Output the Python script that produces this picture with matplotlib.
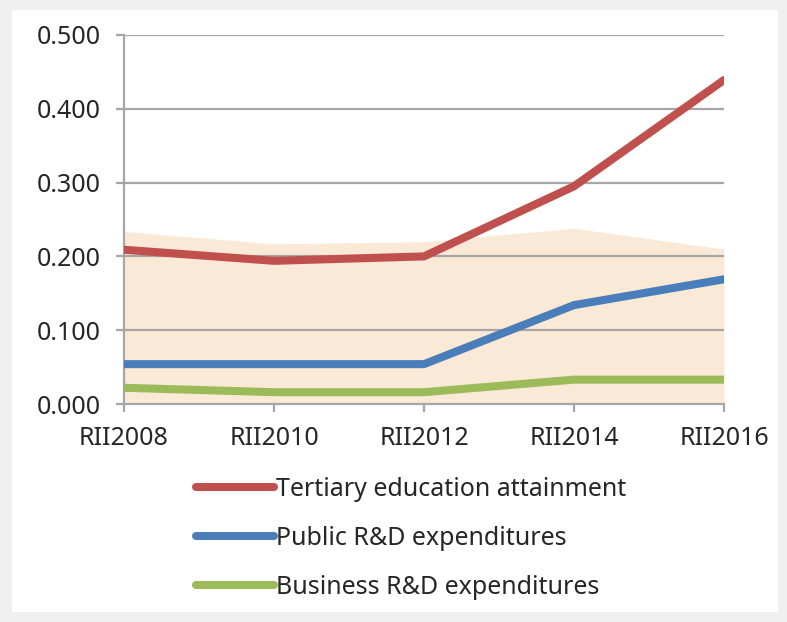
import matplotlib
matplotlib.use('Agg')
import matplotlib.pyplot as plt
from matplotlib.patches import Rectangle

# data
editions = ['RII2008', 'RII2010', 'RII2012', 'RII2014', 'RII2016']
tertiary = [0.209, 0.194, 0.200, 0.295, 0.439]
public_rd = [0.054, 0.054, 0.054, 0.134, 0.169]
business_rd = [0.022, 0.016, 0.016, 0.033, 0.033]
band_top = [0.234, 0.217, 0.220, 0.238, 0.210]
yticks = [0.0, 0.1, 0.2, 0.3, 0.4, 0.5]

plt.rcParams['font.family'] = ['Noto Sans', 'DejaVu Sans']

fig = plt.figure(figsize=(7.87, 6.22), dpi=100, facecolor='#efefef')
fig.add_artist(Rectangle((12 / 787, 10 / 622), 766 / 787, 602 / 622,
                         transform=fig.transFigure, facecolor='white',
                         edgecolor='none', zorder=-10))

ax = fig.add_axes([124 / 787, 1 - 404 / 622, 600 / 787, 369 / 622])
ax.set_facecolor('none')
x = list(range(len(editions)))

ax.fill_between(x, 0, band_top, color='#fbe9d7', lw=0, zorder=1)
grid_c = '#a6a6a6'
for v in yticks[1:]:
    ax.axhline(v, color=grid_c, lw=1.6, zorder=2)

ax.plot(x, tertiary, color='#c0504d', lw=5.8, solid_capstyle='round',
        label='Tertiary education attainment', zorder=3)
ax.plot(x, public_rd, color='#4a7ebb', lw=5.8, solid_capstyle='round',
        label='Public R&D expenditures', zorder=3)
ax.plot(x, business_rd, color='#9bbb59', lw=5.8, solid_capstyle='round',
        label='Business R&D expenditures', zorder=3)

ax.set_xlim(0, 4)
ax.set_ylim(0, 0.5)
ax.set_xticks(x)
ax.set_xticklabels(editions)
ax.set_yticks(yticks)
ax.set_yticklabels([f'{v:.3f}' for v in yticks])
for s in ['top', 'right']:
    ax.spines[s].set_visible(False)
for s in ['left', 'bottom']:
    ax.spines[s].set_color(grid_c)
    ax.spines[s].set_linewidth(1.6)
ax.tick_params(axis='both', colors=grid_c, width=1.6, length=6,
               labelsize=18, labelcolor='#262626')
ax.tick_params(axis='x', pad=10)
ax.tick_params(axis='y', pad=11)

fig.legend(loc='upper left', bbox_to_anchor=(196 / 787, 1 - 477 / 622),
           frameon=False, fontsize=18, handlelength=3.1, handletextpad=0.12,
           labelspacing=0.95, borderpad=0, borderaxespad=0,
           labelcolor='#262626')

fig.savefig('out.png', dpi=100, facecolor=fig.get_facecolor())
